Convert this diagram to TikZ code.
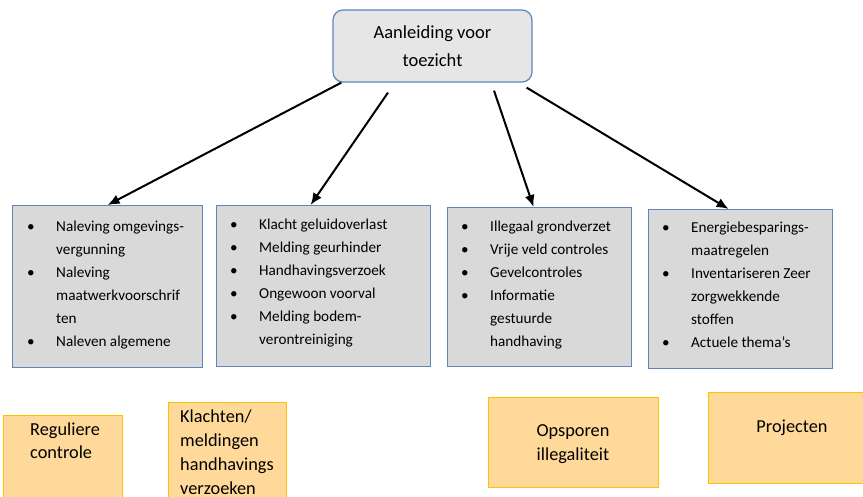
\documentclass[tikz,border=0pt]{standalone}
\usepackage{fontspec}
\setmainfont{Carlito}
\usetikzlibrary{arrows.meta}

\definecolor{boxblue}{HTML}{5B87B9}
\definecolor{boxgray}{HTML}{D9D9D9}
\definecolor{topgray}{HTML}{E7E6E6}
\definecolor{catfill}{HTML}{FFD999}
\definecolor{catline}{HTML}{FFC000}

\tikzstyle{topbox}=[draw=boxblue, fill=topgray, line width=1.2pt, rounded corners=10pt,
  minimum width=199pt, minimum height=72pt, align=center, font=\fontsize{18.5}{28}\selectfont]
\tikzstyle{listbox}=[draw=boxblue, fill=boxgray, line width=1.2pt, anchor=north west]
\tikzstyle{listtext}=[anchor=base west, inner sep=0pt, font=\fontsize{15.2}{23}\selectfont]
\tikzstyle{catbox}=[draw=catline, fill=catfill, line width=1pt, anchor=north west]
\tikzstyle{cattext}=[inner sep=0pt, font=\fontsize{18.3}{24}\selectfont]
\tikzstyle{dep}=[-{Latex[length=12pt,width=10pt]}, line width=2pt]

\newcommand{\itm}[1]{\par\noindent\hangindent=29pt\hangafter=1%
  \makebox[29pt][l]{\textbullet}#1}
\newcommand{\lst}[1]{\parbox[t]{200pt}{#1}}

\begin{document}
\begin{tikzpicture}[x=1pt, y=-1pt]
      \path[fill=white, use as bounding box] (0,0) rectangle (863,497);

      % aanleiding
      \node[topbox] (aanleiding) at (432.5,46) {Aanleiding voor\\toezicht};

      % grijze vakken met opsommingen
      \node[listbox, minimum width=190pt, minimum height=162pt] (regulier) at (12,205) {};
      \node[listbox, minimum width=214pt, minimum height=161pt] (klachten) at (216,205) {};
      \node[listbox, minimum width=184pt, minimum height=159pt] (opsporen) at (447,207) {};
      \node[listbox, minimum width=184pt, minimum height=159pt] (projecten) at (648,209) {};

      \node[listtext] (reglist) at (27,232) {\lst{%
        \itm{Naleving omgevings-\newline vergunning}
        \itm{Naleving\newline maatwerkvoorschrif\newline ten}
        \itm{Naleven algemene}}};
      \node[listtext] (klalist) at (230,230) {\lst{%
        \itm{Klacht geluidoverlast}
        \itm{Melding geurhinder}
        \itm{Handhavingsverzoek}
        \itm{Ongewoon voorval}
        \itm{Melding bodem-\newline verontreiniging}}};
      \node[listtext] (opslist) at (461,232) {\lst{%
        \itm{Illegaal grondverzet}
        \itm{Vrije veld controles}
        \itm{Gevelcontroles}
        \itm{Informatie\newline gestuurde\newline handhaving}}};
      \node[listtext] (prolist) at (662,233) {\lst{%
        \itm{Energiebesparings-\newline maatregelen}
        \itm{Inventariseren Zeer\newline zorgwekkende\newline stoffen}
        \itm{Actuele thema’s}}};

      \draw[dep] ([xshift=9pt]aanleiding.south west) -- (regulier.north);
      \draw[dep] ([xshift=-44.5pt,yshift=-10pt]aanleiding.south) -- ([xshift=-13pt]klachten.north);
      \draw[dep] ([xshift=61.5pt,yshift=-8pt]aanleiding.south) -- ([xshift=-6pt]opsporen.north);
      \draw[dep] ([xshift=-6pt,yshift=-5pt]aanleiding.south east) -- ([xshift=-12pt]projecten.north);

      % oranje categorieen
      \node[catbox, minimum width=119pt, minimum height=100pt] (regcat) at (3,415) {};
      \node[catbox, minimum width=118pt, minimum height=110pt] (klacat) at (168,402) {};
      \node[catbox, minimum width=170pt, minimum height=90pt] (opscat) at (488,397) {};
      \node[catbox, minimum width=180pt, minimum height=91pt] (procat) at (708,392) {};

      \node[cattext, anchor=base west] (reglabel) at (30,435)
        {\parbox[t]{90pt}{\raggedright Reguliere\\controle}};
      \node[cattext, anchor=base west] (klalabel) at (180,422)
        {\parbox[t]{110pt}{\raggedright Klachten/\\meldingen\\handhavings\\verzoeken}};
      \node[cattext, anchor=base] (opslabel) at (573,436)
        {\parbox[t]{120pt}{\centering Opsporen\\illegaliteit}};
      \node[cattext, anchor=base] (prolabel) at (792,432) {Projecten};
    \end{tikzpicture}
\end{document}
